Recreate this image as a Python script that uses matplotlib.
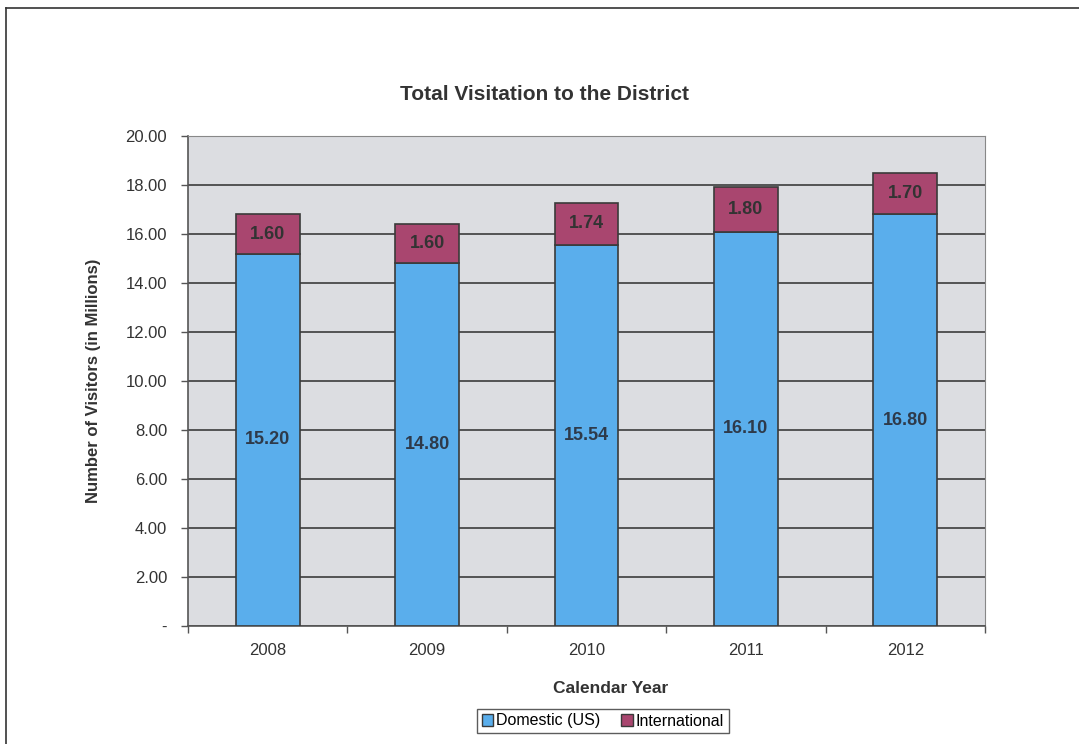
import matplotlib
matplotlib.use('Agg')
import matplotlib.pyplot as plt
import numpy as np
from matplotlib.lines import Line2D
from matplotlib.patches import Patch

plt.rcParams['font.family'] = ['Liberation Sans', 'DejaVu Sans']

years = ['2008', '2009', '2010', '2011', '2012']
domestic = [15.20, 14.80, 15.54, 16.10, 16.80]
international = [1.60, 1.60, 1.74, 1.80, 1.70]

blue = '#5aaeec'
maroon = '#a9466f'
edge = '#3a3a3a'
txt = '#333333'

fig = plt.figure(figsize=(10.79, 7.44), dpi=100)
ax = fig.add_axes([0.1742, 0.1586, 0.7387, 0.6586])
ax.set_facecolor('#dcdde1')

x = np.arange(len(years))
ax.bar(x, domestic, width=0.4, color=blue, edgecolor=edge, linewidth=1.2, zorder=3)
ax.bar(x, international, width=0.4, bottom=domestic, color=maroon, edgecolor=edge,
       linewidth=1.2, zorder=3)

for i in range(len(years)):
    ax.text(x[i], domestic[i] / 2, '%.2f' % domestic[i], ha='center', va='center',
            fontsize=13, fontweight='bold', color='#2e3a4a', zorder=4)
    ax.text(x[i], domestic[i] + international[i] / 2, '%.2f' % international[i],
            ha='center', va='center', fontsize=13, fontweight='bold', color='#333333', zorder=4)

ax.set_xlim(-0.5, len(years) - 0.5)
ax.set_ylim(0, 20)
yt = np.arange(0, 21, 2)
ax.set_yticks(yt)
ax.set_yticklabels(['-'] + ['%.2f' % v for v in yt[1:]])
ax.set_xticks(x)
ax.set_xticklabels(years)
ax.set_xticks(np.arange(-0.5, len(years), 1), minor=True)
ax.tick_params(axis='x', which='major', length=0, pad=12, labelsize=12, colors=txt)
ax.tick_params(axis='x', which='minor', length=5, width=1, color='#555555')
ax.tick_params(axis='y', length=5, width=1, color='#555555', labelsize=12, labelcolor=txt, pad=10)

ax.yaxis.grid(True, color='#3c3c3c', linewidth=1.2, zorder=1)
ax.set_axisbelow(True)
for s in ['top', 'right']:
    ax.spines[s].set_color('#888888')
for s in ['left', 'bottom']:
    ax.spines[s].set_color('#555555')
    ax.spines[s].set_linewidth(1.2)

ax.set_xlabel('Calendar Year', fontsize=12.5, fontweight='bold', color=txt)
ax.xaxis.set_label_coords((611 - 188) / 797, -(688 - 626) / 490, transform=ax.transAxes)
ax.xaxis.label.set_va('center')
ax.set_ylabel('Number of Visitors (in Millions)', fontsize=12, fontweight='bold', color=txt,
              labelpad=18)
fig.text(545 / 1079, 1 - 95 / 744, 'Total Visitation to the District', ha='center',
         va='center', fontsize=15, fontweight='bold', color=txt)

handles = [Patch(facecolor=blue, edgecolor=edge), Patch(facecolor=maroon, edgecolor=edge)]
leg = fig.legend(handles, ['Domestic (US)', 'International'], loc='center',
                 bbox_to_anchor=(603 / 1079, 1 - 721 / 744), ncol=2, fontsize=11.5,
                 frameon=True, fancybox=False, edgecolor='#333333', handlelength=0.7,
                 handleheight=0.7, handletextpad=0.2, columnspacing=1.3, borderpad=0.3)
leg.get_frame().set_linewidth(1.0)

# page border (left and top)
fig.add_artist(Line2D([6 / 1079, 6 / 1079], [0, 1 - 8 / 744], transform=fig.transFigure,
                      color='#333333', linewidth=1.2))
fig.add_artist(Line2D([6 / 1079, 1], [1 - 8 / 744, 1 - 8 / 744], transform=fig.transFigure,
                      color='#333333', linewidth=1.2))

fig.savefig('out.png', dpi=100)
